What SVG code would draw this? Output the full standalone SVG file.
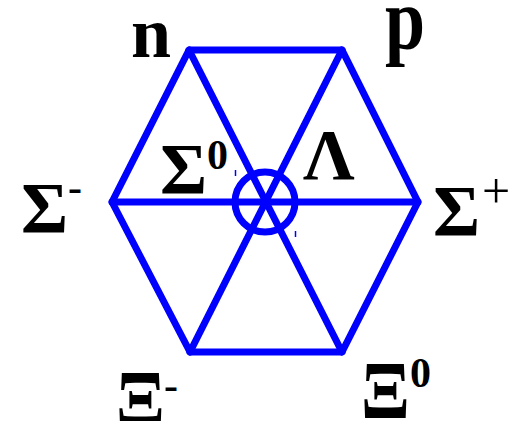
<svg xmlns="http://www.w3.org/2000/svg" width="509" height="421" viewBox="0 0 509 421">
<style>
.e{stroke:#0000ff;stroke-width:7;fill:none;stroke-linejoin:round;stroke-linecap:round}
.m{stroke:#0000ff;stroke-width:1.5}
.t{font-family:"Liberation Serif","Times New Roman",serif;font-weight:bold;fill:#000}
.b{font-size:72px}
.s{font-size:42px}
.pl{font-size:50px;font-weight:normal}
</style>
<rect width="509" height="421" fill="#fff"/>
<g id="connectors">
<polygon class="e" points="189,50 342,50 418,202 342,352 190,352 112,202"/>
<line class="e" x1="189" y1="50" x2="342" y2="352"/>
<line class="e" x1="342" y1="50" x2="190" y2="352"/>
<line class="e" x1="112" y1="202" x2="418" y2="202"/>
<circle class="e" cx="265" cy="202" r="30"/>
<line class="m" x1="235.5" y1="170" x2="235.5" y2="176"/>
<line class="m" x1="295.5" y1="231" x2="295.5" y2="237"/>
</g>
<g id="n"><text class="t b" x="131" y="57">n</text></g>
<g id="p"><text class="t b" transform="translate(385,48) scale(1,1.2)">p</text></g>
<g id="sigma-minus"><text class="t b" x="21" y="232">Σ<tspan class="s" dy="-31">-</tspan></text></g>
<g id="sigma-zero"><text class="t b" x="160" y="193">Σ<tspan class="s" dy="-24">0</tspan></text></g>
<g id="lambda"><text class="t b" x="303" y="179">Λ</text></g>
<g id="sigma-plus"><text class="t b" x="433" y="235">Σ</text><text class="t pl" x="482" y="208">+</text></g>
<g id="xi-minus"><text class="t b" transform="translate(116,427) scale(1,1.15)">Ξ</text><text class="t s" x="164" y="399">-</text></g>
<g id="xi-zero"><text class="t b" transform="translate(361,418) scale(1,1.15)">Ξ</text><text class="t s" x="410" y="387">0</text></g>
</svg>
